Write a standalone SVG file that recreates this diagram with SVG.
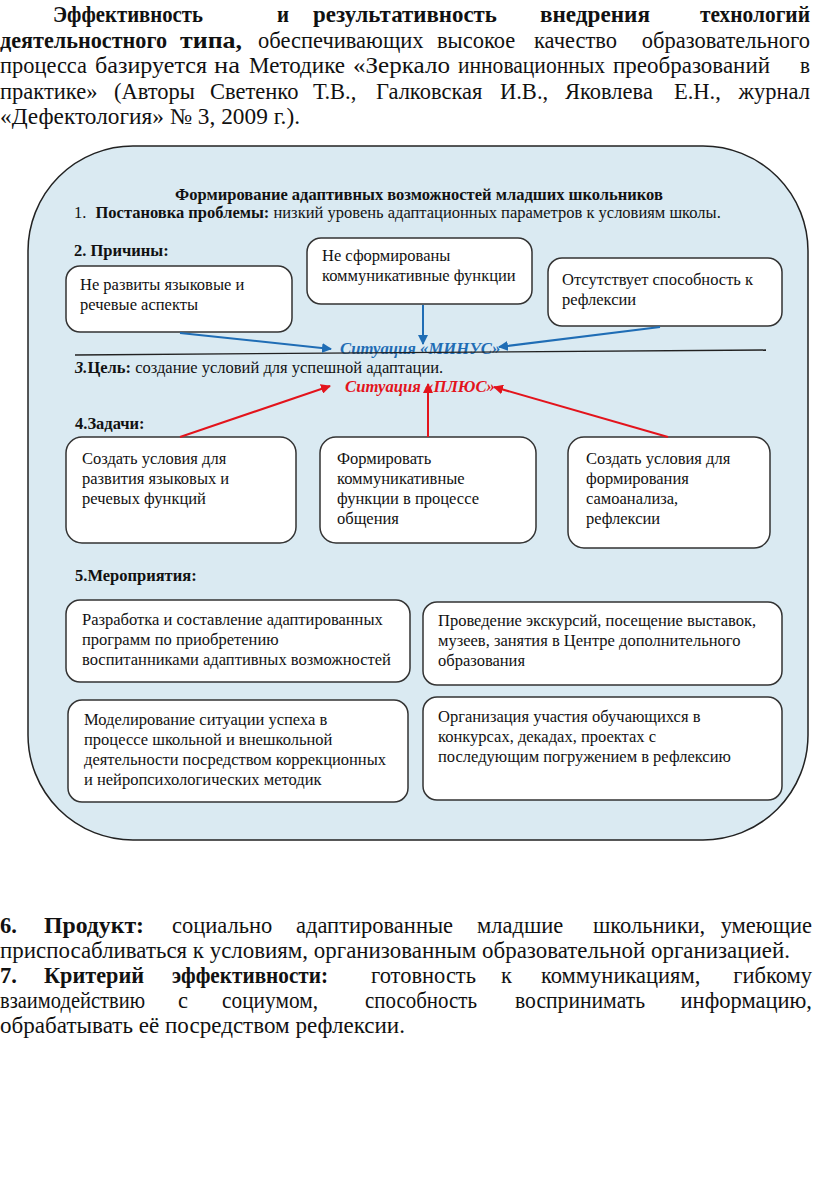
<svg xmlns="http://www.w3.org/2000/svg" width="816" height="1179" viewBox="0 0 816 1179">
<defs>
<style>
.p{font-family:"Liberation Serif","Times New Roman",serif;font-size:22.5px;fill:#111}
.b{font-weight:bold}
.t{font-family:"Liberation Serif","Times New Roman",serif;font-size:16.5px;fill:#111}
.box{fill:#fff;stroke:#333;stroke-width:1.5}
.blue{stroke:#1f6db5;stroke-width:2;fill:none;marker-end:url(#ab)}
.red{stroke:#e3141c;stroke-width:2;fill:none;marker-end:url(#ar)}
.sit{font-family:"Liberation Serif","Times New Roman",serif;font-size:16.7px;font-weight:bold;font-style:italic}
</style>
<marker id="ab" viewBox="0 0 10 10" refX="9" refY="5" markerWidth="5" markerHeight="5" orient="auto"><path d="M0,0 L10,5 L0,10 z" fill="#1f6db5"/></marker>
<marker id="ar" viewBox="0 0 10 10" refX="9" refY="5" markerWidth="5" markerHeight="5" orient="auto"><path d="M0,0 L10,5 L0,10 z" fill="#e3141c"/></marker>
</defs>
<rect width="816" height="1179" fill="#fff"/>

<g id="intro" class="p">
<text class="b" x="53" y="22" textLength="150" lengthAdjust="spacingAndGlyphs">Эффективность</text>
<text class="b" x="277" y="22" textLength="12" lengthAdjust="spacingAndGlyphs">и</text>
<text class="b" x="313" y="22" textLength="184" lengthAdjust="spacingAndGlyphs">результативность</text>
<text class="b" x="540" y="22" textLength="110" lengthAdjust="spacingAndGlyphs">внедрения</text>
<text class="b" x="700" y="22" textLength="110" lengthAdjust="spacingAndGlyphs">технологий</text>

<text class="b" x="0" y="48" textLength="167" lengthAdjust="spacingAndGlyphs">деятельностного</text>
<text class="b" x="180" y="48" textLength="62" lengthAdjust="spacingAndGlyphs">типа,</text>
<text x="258" y="48">обеспечивающих</text>
<text x="437" y="48">высокое</text>
<text x="534" y="48">качество</text>
<text x="810" y="48" text-anchor="end">образовательного</text>

<text x="0" y="73" textLength="87" lengthAdjust="spacingAndGlyphs">процесса</text>
<text x="95" y="73" textLength="112" lengthAdjust="spacingAndGlyphs">базируется</text>
<text x="214" y="73" textLength="26" lengthAdjust="spacingAndGlyphs">на</text>
<text x="249" y="73" textLength="96" lengthAdjust="spacingAndGlyphs">Методике</text>
<text x="353" y="73" textLength="97" lengthAdjust="spacingAndGlyphs">«Зеркало</text>
<text x="458" y="73" textLength="147" lengthAdjust="spacingAndGlyphs">инновационных</text>
<text x="613" y="73" textLength="157" lengthAdjust="spacingAndGlyphs">преобразований</text>
<text x="800" y="73" textLength="10" lengthAdjust="spacingAndGlyphs">в</text>

<text x="0" y="99">практике»</text>
<text x="114" y="99">(Авторы</text>
<text x="210" y="99">Светенко</text>
<text x="313" y="99">Т.В.,</text>
<text x="376" y="99">Галковская</text>
<text x="500" y="99">И.В.,</text>
<text x="565" y="99">Яковлева</text>
<text x="674" y="99">Е.Н.,</text>
<text x="810" y="99" text-anchor="end">журнал</text>

<text x="0" y="124" textLength="300" lengthAdjust="spacingAndGlyphs">«Дефектология» № 3, 2009 г.).</text>
</g>

<g id="frame">
<rect x="28" y="146" width="780" height="694" rx="105" ry="105" fill="#daeaf2" stroke="#222" stroke-width="1.5"/>
</g>

<g id="headings">
<text class="t b" x="419" y="200" text-anchor="middle" font-size="16">Формирование адаптивных возможностей младших школьников</text>
<text class="t" x="74" y="218"><tspan>1. </tspan><tspan class="b" dx="5">Постановка проблемы:</tspan><tspan> низкий уровень адаптационных параметров к условиям школы.</tspan></text>
<text class="t b" x="74" y="256">2. Причины:</text>
<text class="t" x="75" y="373"><tspan class="b" font-style="italic">3.</tspan><tspan class="b">Цель:</tspan><tspan> создание условий для успешной адаптации.</tspan></text>
<text class="t b" x="75" y="429">4.Задачи:</text>
<text class="t b" x="75" y="581">5.Мероприятия:</text>
</g>

<g id="cause1"><rect class="box" x="66" y="266" width="226" height="66" rx="14"/>
<text class="t" x="80" y="290">Не развиты языковые и</text><text class="t" x="80" y="310">речевые аспекты</text></g>
<g id="cause2"><rect class="box" x="307" y="238" width="225" height="66" rx="14"/>
<text class="t" x="322" y="261">Не сформированы</text><text class="t" x="322" y="281">коммуникативные функции</text></g>
<g id="cause3"><rect class="box" x="548" y="258" width="234" height="68" rx="14"/>
<text class="t" x="562" y="285">Отсутствует способность к</text><text class="t" x="562" y="305">рефлексии</text></g>

<g id="minus">
<text class="sit" x="340" y="354" fill="#1f6db5">Ситуация «МИНУС»</text>
</g>
<g id="plus">
<text class="sit" x="345" y="392" fill="#e3141c">Ситуация «ПЛЮС»</text>
</g>

<g id="task1"><rect class="box" x="66" y="437" width="230" height="106" rx="16"/>
<text class="t" x="82" y="464">Создать условия для</text><text class="t" x="82" y="484">развития  языковых и</text><text class="t" x="82" y="504">речевых функций</text></g>
<g id="task2"><rect class="box" x="320" y="437" width="216" height="106" rx="16"/>
<text class="t" x="337" y="464">Формировать</text><text class="t" x="337" y="484">коммуникативные</text><text class="t" x="337" y="504">функции в процессе</text><text class="t" x="337" y="524">общения</text></g>
<g id="task3"><rect class="box" x="568" y="437" width="202" height="111" rx="16"/>
<text class="t" x="586" y="464">Создать условия для</text><text class="t" x="586" y="484">формирования</text><text class="t" x="586" y="504">самоанализа,</text><text class="t" x="586" y="524">рефлексии</text></g>

<g id="measure1"><rect class="box" x="66" y="600" width="344" height="82" rx="14"/>
<text class="t" x="82" y="625">Разработка и составление  адаптированных</text><text class="t" x="82" y="645">программ по приобретению</text><text class="t" x="82" y="665">воспитанниками адаптивных возможностей</text></g>
<g id="measure2"><rect class="box" x="423" y="602" width="359" height="83" rx="14"/>
<text class="t" x="438" y="626">Проведение экскурсий, посещение выставок,</text><text class="t" x="438" y="646">музеев, занятия в Центре дополнительного</text><text class="t" x="438" y="666">образования</text></g>
<g id="measure3"><rect class="box" x="68" y="700" width="340" height="102" rx="14"/>
<text class="t" x="84" y="725">Моделирование ситуации успеха в</text><text class="t" x="84" y="745">процессе школьной и внешкольной</text><text class="t" x="84" y="765">деятельности посредством коррекционных</text><text class="t" x="84" y="785">и  нейропсихологических методик</text></g>
<g id="measure4"><rect class="box" x="423" y="697" width="359" height="103" rx="14"/>
<text class="t" x="438" y="722">Организация участия обучающихся в</text><text class="t" x="438" y="742">конкурсах, декадах, проектах  с</text><text class="t" x="438" y="762">последующим погружением в рефлексию</text></g>

<g id="connectors">
<line x1="75" y1="355" x2="766" y2="350" stroke="#222" stroke-width="1.3"/>
<line class="blue" x1="180" y1="333" x2="331" y2="349"/>
<line class="blue" x1="423" y1="305" x2="423" y2="344"/>
<line class="blue" x1="660" y1="327" x2="499" y2="347"/>
<line class="red" x1="180" y1="437" x2="330" y2="386"/>
<line class="red" x1="428" y1="437" x2="428" y2="384"/>
<line class="red" x1="668" y1="437" x2="494" y2="387"/>
</g>

<g id="outro" class="p">
<text class="b" x="0" y="933">6.</text>
<text class="b" x="44" y="933" textLength="100" lengthAdjust="spacingAndGlyphs">Продукт:</text>
<text x="172" y="933">социально</text>
<text x="296" y="933">адаптированные</text>
<text x="477" y="933">младшие</text>
<text x="593" y="933">школьники,</text>
<text x="812" y="933" text-anchor="end">умеющие</text>

<text x="0" y="958" textLength="790" lengthAdjust="spacingAndGlyphs">приспосабливаться к условиям, организованным образовательной организацией.</text>

<text class="b" x="0" y="983">7.</text>
<text class="b" x="44" y="983" textLength="100" lengthAdjust="spacingAndGlyphs">Критерий</text>
<text class="b" x="172" y="983" textLength="156" lengthAdjust="spacingAndGlyphs">эффективности:</text>
<text x="371" y="983">готовность</text>
<text x="501" y="983">к</text>
<text x="541" y="983">коммуникациям,</text>
<text x="812" y="983" text-anchor="end">гибкому</text>

<text x="0" y="1008" textLength="145" lengthAdjust="spacingAndGlyphs">взаимодействию</text>
<text x="178" y="1008" textLength="10" lengthAdjust="spacingAndGlyphs">с</text>
<text x="222" y="1008" textLength="96" lengthAdjust="spacingAndGlyphs">социумом,</text>
<text x="365" y="1008" textLength="112" lengthAdjust="spacingAndGlyphs">способность</text>
<text x="515" y="1008" textLength="130" lengthAdjust="spacingAndGlyphs">воспринимать</text>
<text x="812" y="1008" text-anchor="end">информацию,</text>

<text x="0" y="1033" textLength="405" lengthAdjust="spacingAndGlyphs">обрабатывать её посредством рефлексии.</text>
</g>
</svg>
